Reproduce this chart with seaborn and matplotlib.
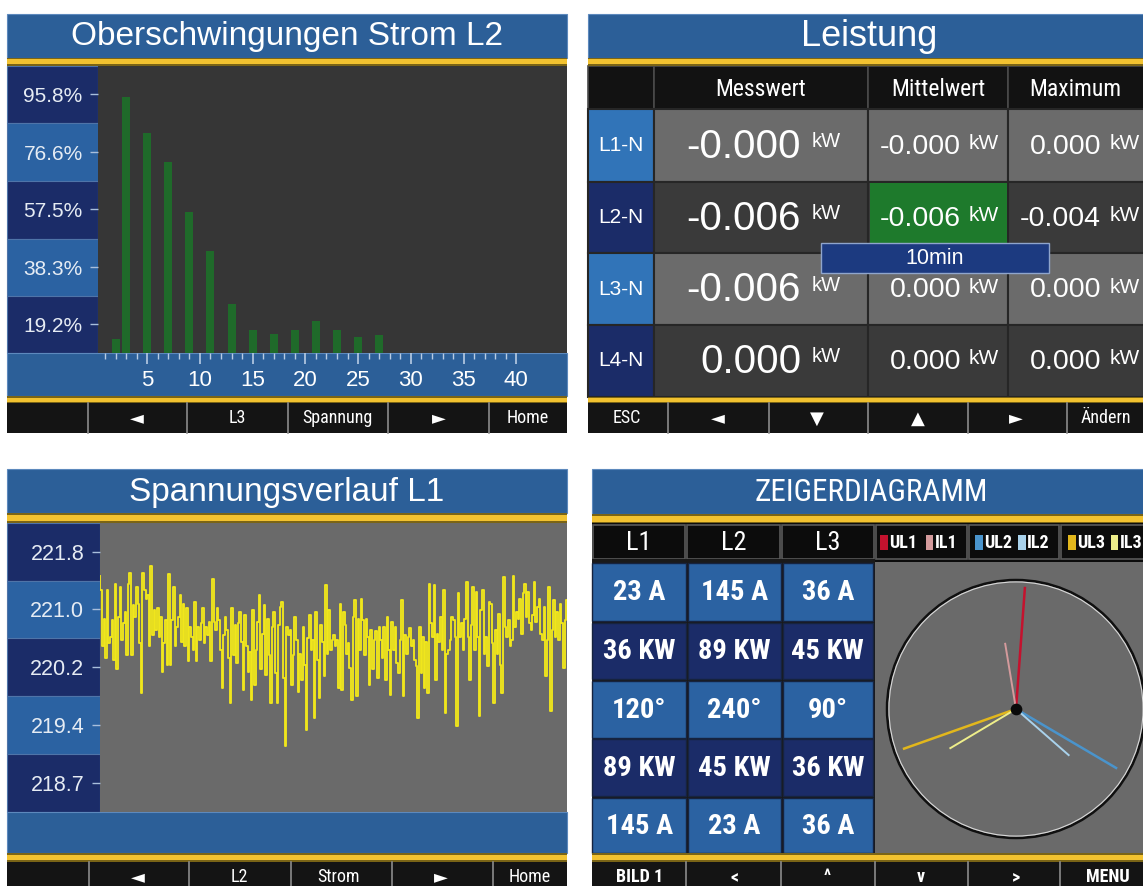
import numpy as np
import matplotlib
matplotlib.use("Agg")
import matplotlib.pyplot as plt
import seaborn as sns
from matplotlib import font_manager
from matplotlib.patches import Rectangle, Circle
from matplotlib.ticker import FixedLocator

# ---- data ---------------------------------------------------------------
harmonic_order = [2, 3, 5, 7, 9, 11, 13, 15, 17, 19, 21, 23, 25, 27]
harmonic_pct = [14.4, 95.0, 82.8, 73.3, 56.5, 43.7, 26.1, 17.4, 16.1, 17.4,
                20.3, 17.4, 15.0, 15.8]
pct_ticks = [19.2, 38.3, 57.5, 76.6, 95.8]
order_ticks = [5, 10, 15, 20, 25, 30, 35, 40]

volt_samples = [
    221.48, 221.28, 220.53, 220.90, 220.37, 221.28, 220.57, 220.66, 220.88, 220.35,
    221.37, 220.22, 220.93, 221.33, 220.62, 220.84, 220.99, 220.41, 221.37, 221.52,
    220.41, 221.08, 220.93, 221.33, 221.10, 220.57, 219.90, 221.52, 221.28, 221.17,
    221.22, 220.53, 221.61, 220.68, 221.02, 220.75, 221.04, 220.66, 220.93, 220.19,
    220.57, 220.88, 220.28, 221.50, 220.28, 220.88, 221.33, 220.53, 220.79, 220.93,
    221.22, 220.59, 221.10, 220.53, 221.04, 220.33, 220.79, 220.66, 220.48, 221.13,
    220.33, 220.79, 220.62, 220.84, 221.04, 220.57, 220.79, 220.68, 220.86, 220.33,
    221.44, 220.86,
    220.75, 221.04, 220.88, 220.48, 219.97, 220.68, 220.93, 220.75, 220.37, 219.77,
    221.04, 220.41, 220.81, 220.30, 220.84, 220.99, 220.59, 219.95, 220.95, 220.53,
    220.19, 220.46, 219.81, 221.02, 220.01, 220.48, 220.86, 221.22, 220.22, 220.70,
    221.08, 220.15, 220.90, 220.41, 219.77, 220.79, 220.99, 220.17, 219.77, 220.81,
    221.06, 221.13, 220.10, 219.19, 220.79, 220.68, 220.75, 220.01, 220.41, 220.93,
    220.62, 219.92, 220.43, 220.08, 220.79, 220.28, 219.41, 220.64, 220.95, 220.48,
    220.62, 219.57, 220.99, 220.35, 219.84, 220.81, 220.59, 220.13, 221.35, 220.43,
    221.02, 220.48,
    220.62, 220.68, 220.53, 220.62, 219.97, 221.10, 219.95, 220.99, 220.81, 220.43,
    220.57, 220.24, 219.81, 220.93, 221.15, 219.86, 220.90, 220.48, 221.17, 220.88,
    220.41, 220.90, 220.66, 220.01, 220.75, 220.22, 220.62, 220.73, 220.10, 220.79,
    220.62, 220.37, 220.79, 220.08, 220.93, 220.48, 219.88, 220.86, 220.48, 220.79,
    220.30, 220.17, 220.62, 221.15, 219.86, 220.68, 220.43, 220.66, 220.77, 220.53,
    220.62, 220.35, 220.26, 219.57, 220.79, 220.17, 220.66, 219.97, 220.59, 219.90,
    221.37, 220.84, 220.66, 221.35, 220.08, 220.70, 220.59, 220.93, 220.48, 221.28,
    219.64, 220.43,
    220.48, 220.62, 220.93, 220.88, 220.66, 219.46, 221.24, 220.66, 220.84, 220.48,
    220.90, 221.39, 220.66, 220.08, 220.81, 221.33, 220.48, 221.26, 220.66, 219.59,
    221.02, 221.28, 220.43, 220.66, 220.26, 221.13, 221.10, 220.57, 219.77, 220.75,
    220.43, 220.97, 220.28, 219.90, 221.46, 220.79, 220.66, 220.88, 220.53, 220.62,
    221.48, 220.79, 220.99, 220.90, 221.17, 220.70, 221.24, 221.37, 220.93, 221.26,
    220.84, 220.75, 220.95, 221.39, 220.86, 221.06, 221.17, 220.70, 220.62, 221.06,
    220.13, 220.62, 221.33, 219.66, 220.75, 221.15, 220.66, 220.99, 220.62, 221.10,
    220.84, 220.24, 220.88, 221.15,
]
volt_tick_labels = ["221.8", "221.0", "220.2", "219.4", "218.7"]

power_phases = ["L1-N", "L2-N", "L3-N", "L4-N"]
power_columns = ["Messwert", "Mittelwert", "Maximum"]
power_messwert = [-0.0, -0.006, -0.006, 0.0]
power_mittelwert = [-0.0, -0.006, 0.0, 0.0]
power_maximum = [0.0, -0.004, 0.0, 0.0]

phase_names = ["L1", "L2", "L3"]
current_a = [23, 145, 36]
power_a_kw = [36, 89, 45]
phase_angle = [120, 240, 90]
power_b_kw = [89, 45, 36]
current_b = [145, 23, 36]

phasor_names = ["UL1", "IL1", "UL2", "IL2", "UL3", "IL3"]
phasor_angle = [85.8, 99.4, -30.5, -41.2, 199.5, 210.8]
phasor_mag = [0.95, 0.52, 0.91, 0.55, 0.93, 0.60]
phasor_colors = ["#c4122e", "#d49a9c", "#4a94cc", "#a9d2ec", "#e2b71c", "#eeee8a"]

buttons_harm = ["◄", "L3", "Spannung", "►", "Home"]
buttons_power = ["ESC", "◄", "▼", "▲", "►", "Ändern"]
buttons_volt = ["◄", "L2", "Strom", "►", "Home"]
buttons_zeiger = ["BILD 1", "<", "^", "v", ">", "MENU"]

# ---- style ---------------------------------------------------------------
installed = {f.name for f in font_manager.fontManager.ttflist}
NARROW_NAME = next((f for f in ["Liberation Sans Narrow", "DejaVu Sans Condensed",
                                "Roboto Condensed"] if f in installed), "Liberation Sans")
SANS = ["Liberation Sans", "DejaVu Sans"]
NARROW = [NARROW_NAME, "DejaVu Sans"]
NS = 1.0 if NARROW_NAME != "Liberation Sans" else 0.85   # size factor if no narrow font

plt.rcParams["font.family"] = SANS

TITLE_BLUE = "#2c5f98"
NAVY = "#1b2c68"
MID = "#2b62a2"
MID_BRIGHT = "#3174b8"
YELLOW = "#f2c230"
PLOT_DARK = "#363636"
PLOT_GREY = "#6a6a6a"
BAR_GREEN = "#1f6a2a"
LINE_YELLOW = "#f0e61c"

W, H = 1143, 886
fig = plt.figure(figsize=(W / 100, H / 100), dpi=100)
fig.patch.set_facecolor("white")
bg = fig.add_axes([0, 0, 1, 1])
bg.set_xlim(0, W)
bg.set_ylim(H, 0)
bg.axis("off")


def px_axes(x0, y0, x1, y1):
    return fig.add_axes([x0 / W, 1 - y1 / H, (x1 - x0) / W, (y1 - y0) / H])


def rect(x0, y0, x1, y1, fc, ec="none", lw=0, z=1):
    bg.add_patch(Rectangle((x0, y0), x1 - x0, y1 - y0, facecolor=fc,
                           edgecolor=ec, linewidth=lw, zorder=z))


def txt(x, y, s, size, color="white", ha="center", family=SANS, weight="normal", z=6):
    bg.text(x, y, s, fontsize=size, color=color, ha=ha, va="center",
            family=family, fontweight=weight, zorder=z)


def title_bar(x0, x1, y0, y1, title, size, family=SANS):
    rect(x0, y0, x1, y1, TITLE_BLUE, ec="#5d89bd", lw=0.8)
    txt((x0 + x1) / 2, (y0 + y1) / 2 + 1, title, size, family=family)


def yellow_rule(x0, x1, y0, y1):
    rect(x0, y0, x1, y1, "#7a6416", z=2)
    rect(x0, y0 + 1.5, x1, y1 - 1.5, YELLOW, z=3)


def button_bar(x0, x1, y0, y1, dividers, centers, labels, size, weight="normal", yc=None):
    rect(x0, y0, x1, y1, "#141414")
    for d in dividers:
        bg.plot([d, d], [y0, y1], color="#8c8c8c", lw=1.2, zorder=4)
    yc = (y0 + y1) / 2 if yc is None else yc
    for c, s in zip(centers, labels):
        txt(c, yc, s, size, family=NARROW, weight=weight)


def label_column(x0, x1, y_edges, colors):
    for ya, yb, c in zip(y_edges[:-1], y_edges[1:], colors):
        rect(x0, ya, x1, yb, c, ec="#4f74a8", lw=0.8)


def style_value_axis(ax, size):
    ax.tick_params(axis="y", length=6, width=1, color="#a9bfdc",
                   labelcolor="#e6ecf4", labelsize=size, pad=5)
    for s in ax.spines.values():
        s.set_visible(False)
    ax.set_xlabel("")
    ax.set_ylabel("")


# ---- panel 1: Oberschwingungen ------------------------------------------
title_bar(7, 567, 13.5, 57.5, "Oberschwingungen Strom L2", 24)
yellow_rule(7, 567, 57.5, 65.5)
label_column(7, 98, [65.5, 123.3, 181, 238.7, 296.3, 353.3], [NAVY, MID, NAVY, MID, NAVY])
rect(7, 353.3, 567, 396, TITLE_BLUE, ec="#5d89bd", lw=0.8)
yellow_rule(7, 567, 396, 403)
button_bar(7, 567, 403, 433, [87.7, 187.4, 287.9, 388, 488.5],
           [137, 237, 337, 439, 528], buttons_harm, 13 * NS)

ax1 = px_axes(98, 65.5, 567, 353.3)
ax1.set_facecolor(PLOT_DARK)
sns.barplot(x=harmonic_order, y=harmonic_pct, native_scale=True, width=0.76,
            color=BAR_GREEN, saturation=1, linewidth=0, errorbar=None, ax=ax1)
ax1.set_xlim(0.34, 44.8)
ax1.set_ylim(9.6, 105.4)
ax1.set_yticks(pct_ticks)
ax1.set_yticklabels([f"{v}%" for v in pct_ticks])
ax1.set_xticks(order_ticks)
ax1.set_xticklabels([str(t) for t in order_ticks])
ax1.xaxis.set_minor_locator(FixedLocator(range(1, 41)))
ax1.tick_params(axis="x", which="major", length=8, width=1.2, color="#b8cce4",
                labelcolor="white", labelsize=16, pad=4)
ax1.tick_params(axis="x", which="minor", length=4, width=1, color="#b8cce4")
style_value_axis(ax1, 15)

# ---- panel 2: Leistung ----------------------------------------------------
x_cols = [588, 653.6, 868.3, 1008.4, 1150]
y_rows = [65.5, 109.3, 181.7, 253.3, 325, 396.7]
title_bar(588, 1150, 13.5, 57.5, "Leistung", 26)
yellow_rule(588, 1150, 57.5, 65.5)
for i in range(4):
    rect(x_cols[i], y_rows[0], x_cols[i + 1], y_rows[1], "#121212", ec="#4a4a4a", lw=1.2)
for i, name in enumerate(power_columns):
    txt((x_cols[i + 1] + x_cols[i + 2]) / 2 - (4 if i == 2 else 0), 89, name,
        17 * NS, family=NARROW)

row_fill = ["#6b6b6b", "#3a3a3a", "#6b6b6b", "#3a3a3a"]
phase_fill = [MID_BRIGHT, NAVY, MID_BRIGHT, NAVY]
for r in range(4):
    ya, yb = y_rows[r + 1], y_rows[r + 2]
    yc = (ya + yb) / 2
    rect(x_cols[0], ya, x_cols[1], yb, phase_fill[r], ec="#262626", lw=1.5)
    for c in range(3):
        rect(x_cols[c + 1], ya, x_cols[c + 2], yb, row_fill[r], ec="#262626", lw=1.5)
    txt(621, yc, power_phases[r], 15)
    txt(801, yc + 1, f"{power_messwert[r]:.3f}", 29, ha="right")
    txt(812, yc - 4, "kW", 14.5, ha="left")
    txt(961, yc + 1, f"{power_mittelwert[r]:.3f}", 20.5, ha="right", z=8)
    txt(969, yc - 2, "kW", 15, ha="left", z=8)
    txt(1101, yc + 1, f"{power_maximum[r]:.3f}", 20.5, ha="right")
    txt(1110, yc - 2, "kW", 15, ha="left")
rect(870, 183, 1007, 252, "#1e7a2c", z=2)
rect(821, 243.3, 1048.6, 273.3, "#1c3a80", ec="#8fa5cc", lw=1, z=9)
txt(935, 258, "10min", 15.5, z=10)
yellow_rule(588, 1150, 396.7, 403.3)
button_bar(588, 1150, 403.3, 433.3, [668, 768.5, 868.3, 967.8, 1067.3],
           [627, 718, 817, 917.5, 1016, 1106], buttons_power, 13 * NS)

# ---- panel 3: Spannungsverlauf ---------------------------------------------
title_bar(7, 567, 469.3, 513.3, "Spannungsverlauf L1", 24)
yellow_rule(7, 567, 513.3, 522.7)
label_column(7, 99.5, [522.7, 580.5, 638.3, 696.1, 753.9, 811.7], [NAVY, MID, NAVY, MID, NAVY])
rect(7, 811.7, 567, 853.3, TITLE_BLUE, ec="#5d89bd", lw=0.8)
yellow_rule(7, 567, 853.3, 861.7)
button_bar(7, 567, 861.7, 895, [88.5, 189, 291, 391.8, 492.8],
           [138, 239, 339, 441, 530], buttons_volt, 13 * NS, yc=877)

ax3 = px_axes(99.5, 522.7, 567, 811.7)
ax3.set_facecolor(PLOT_GREY)
sns.lineplot(x=np.arange(len(volt_samples)), y=volt_samples, estimator=None,
             color=LINE_YELLOW, linewidth=1.35, drawstyle="steps-mid", ax=ax3)
ax3.set_xlim(0, len(volt_samples) - 1)
ax3.set_ylim(218.31, 222.19)
ax3.set_yticks(np.linspace(221.8, 218.7, 5))
ax3.set_yticklabels(volt_tick_labels)
ax3.set_xticks([])
style_value_axis(ax3, 15.5)

# ---- panel 4: Zeigerdiagramm -----------------------------------------------
title_bar(592, 1150, 469.3, 514, "ZEIGERDIAGRAMM", 22.5 * NS, family=NARROW)
yellow_rule(592, 1150, 514, 523.3)
rect(592, 523.3, 1150, 561.7, "#0c0c0c")
hdr_x = [592, 686.4, 780.7, 875, 967.6, 1060, 1150]
for i in range(6):
    rect(hdr_x[i] + 1, 524.8, hdr_x[i + 1] - 1, 559.3, "#0c0c0c", ec="#5a5a5a", lw=1.2)
for i, name in enumerate(phase_names):
    txt((hdr_x[i] + hdr_x[i + 1]) / 2, 542.5, name, 19 * NS, family=NARROW)
legend_x = [880, 925.6, 975, 1018, 1068, 1110.6]
for lx, name, col in zip(legend_x, phasor_names, phasor_colors):
    rect(lx, 535, lx + 7.5, 550, col, z=5)
    txt(lx + 9, 543, name, 13 * NS, ha="left", family=NARROW, weight="bold")

grid_cols = [(592, 686.4), (688, 780.7), (782.5, 873)]
grid_rows = [561.7, 621.7, 680, 738.3, 796.7, 853.3]
grid_fill = [MID, NAVY, MID, NAVY, MID]
grid_text = [[f"{v} A" for v in current_a],
             [f"{v} KW" for v in power_a_kw],
             [f"{v}°" for v in phase_angle],
             [f"{v} KW" for v in power_b_kw],
             [f"{v} A" for v in current_b]]
rect(592, 559.3, 875, 853.3, "#1a1a1a")
for r in range(5):
    ya, yb = grid_rows[r], grid_rows[r + 1]
    for c, (xa, xb) in enumerate(grid_cols):
        rect(xa, ya + 0.8, xb, yb - 0.8, grid_fill[r], ec="#16233f", lw=1)
        txt((xa + xb) / 2, (ya + yb) / 2 + 1, grid_text[r][c], 20.5 * NS,
            family=NARROW, weight="bold")

ax4 = px_axes(875, 561.7, 1150, 853.3)
ax4.set_facecolor(PLOT_GREY)
R = 129.0
ax4.set_xlim(-141 / R, 134 / R)
ax4.set_ylim(-144.3 / R, 147.3 / R)
ax4.add_patch(Circle((0, 0), 1.0, fill=False, edgecolor="#101010", linewidth=1.8))
ax4.add_patch(Circle((0, 0), 0.985, fill=False, edgecolor="#d8d8d8", linewidth=0.8))
for ang, mag, col, name in zip(phasor_angle, phasor_mag, phasor_colors, phasor_names):
    a = np.deg2rad(ang)
    ax4.plot([0, mag * np.cos(a)], [0, mag * np.sin(a)], color=col,
             linewidth=1.8 if name.startswith("U") else 1.4, solid_capstyle="butt")
ax4.scatter([0], [0], s=55, color="#0a0a0a", zorder=5)
ax4.set_xticks([])
ax4.set_yticks([])
for s in ax4.spines.values():
    s.set_visible(False)

yellow_rule(592, 1150, 853.3, 861.7)
button_bar(592, 1150, 861.7, 895, [686.4, 780.7, 875, 967.6, 1060],
           [640, 734.5, 827, 921, 1015.6, 1108], buttons_zeiger, 13 * NS,
           weight="bold", yc=877)

fig.savefig("out.png", dpi=100)
plt.close(fig)
